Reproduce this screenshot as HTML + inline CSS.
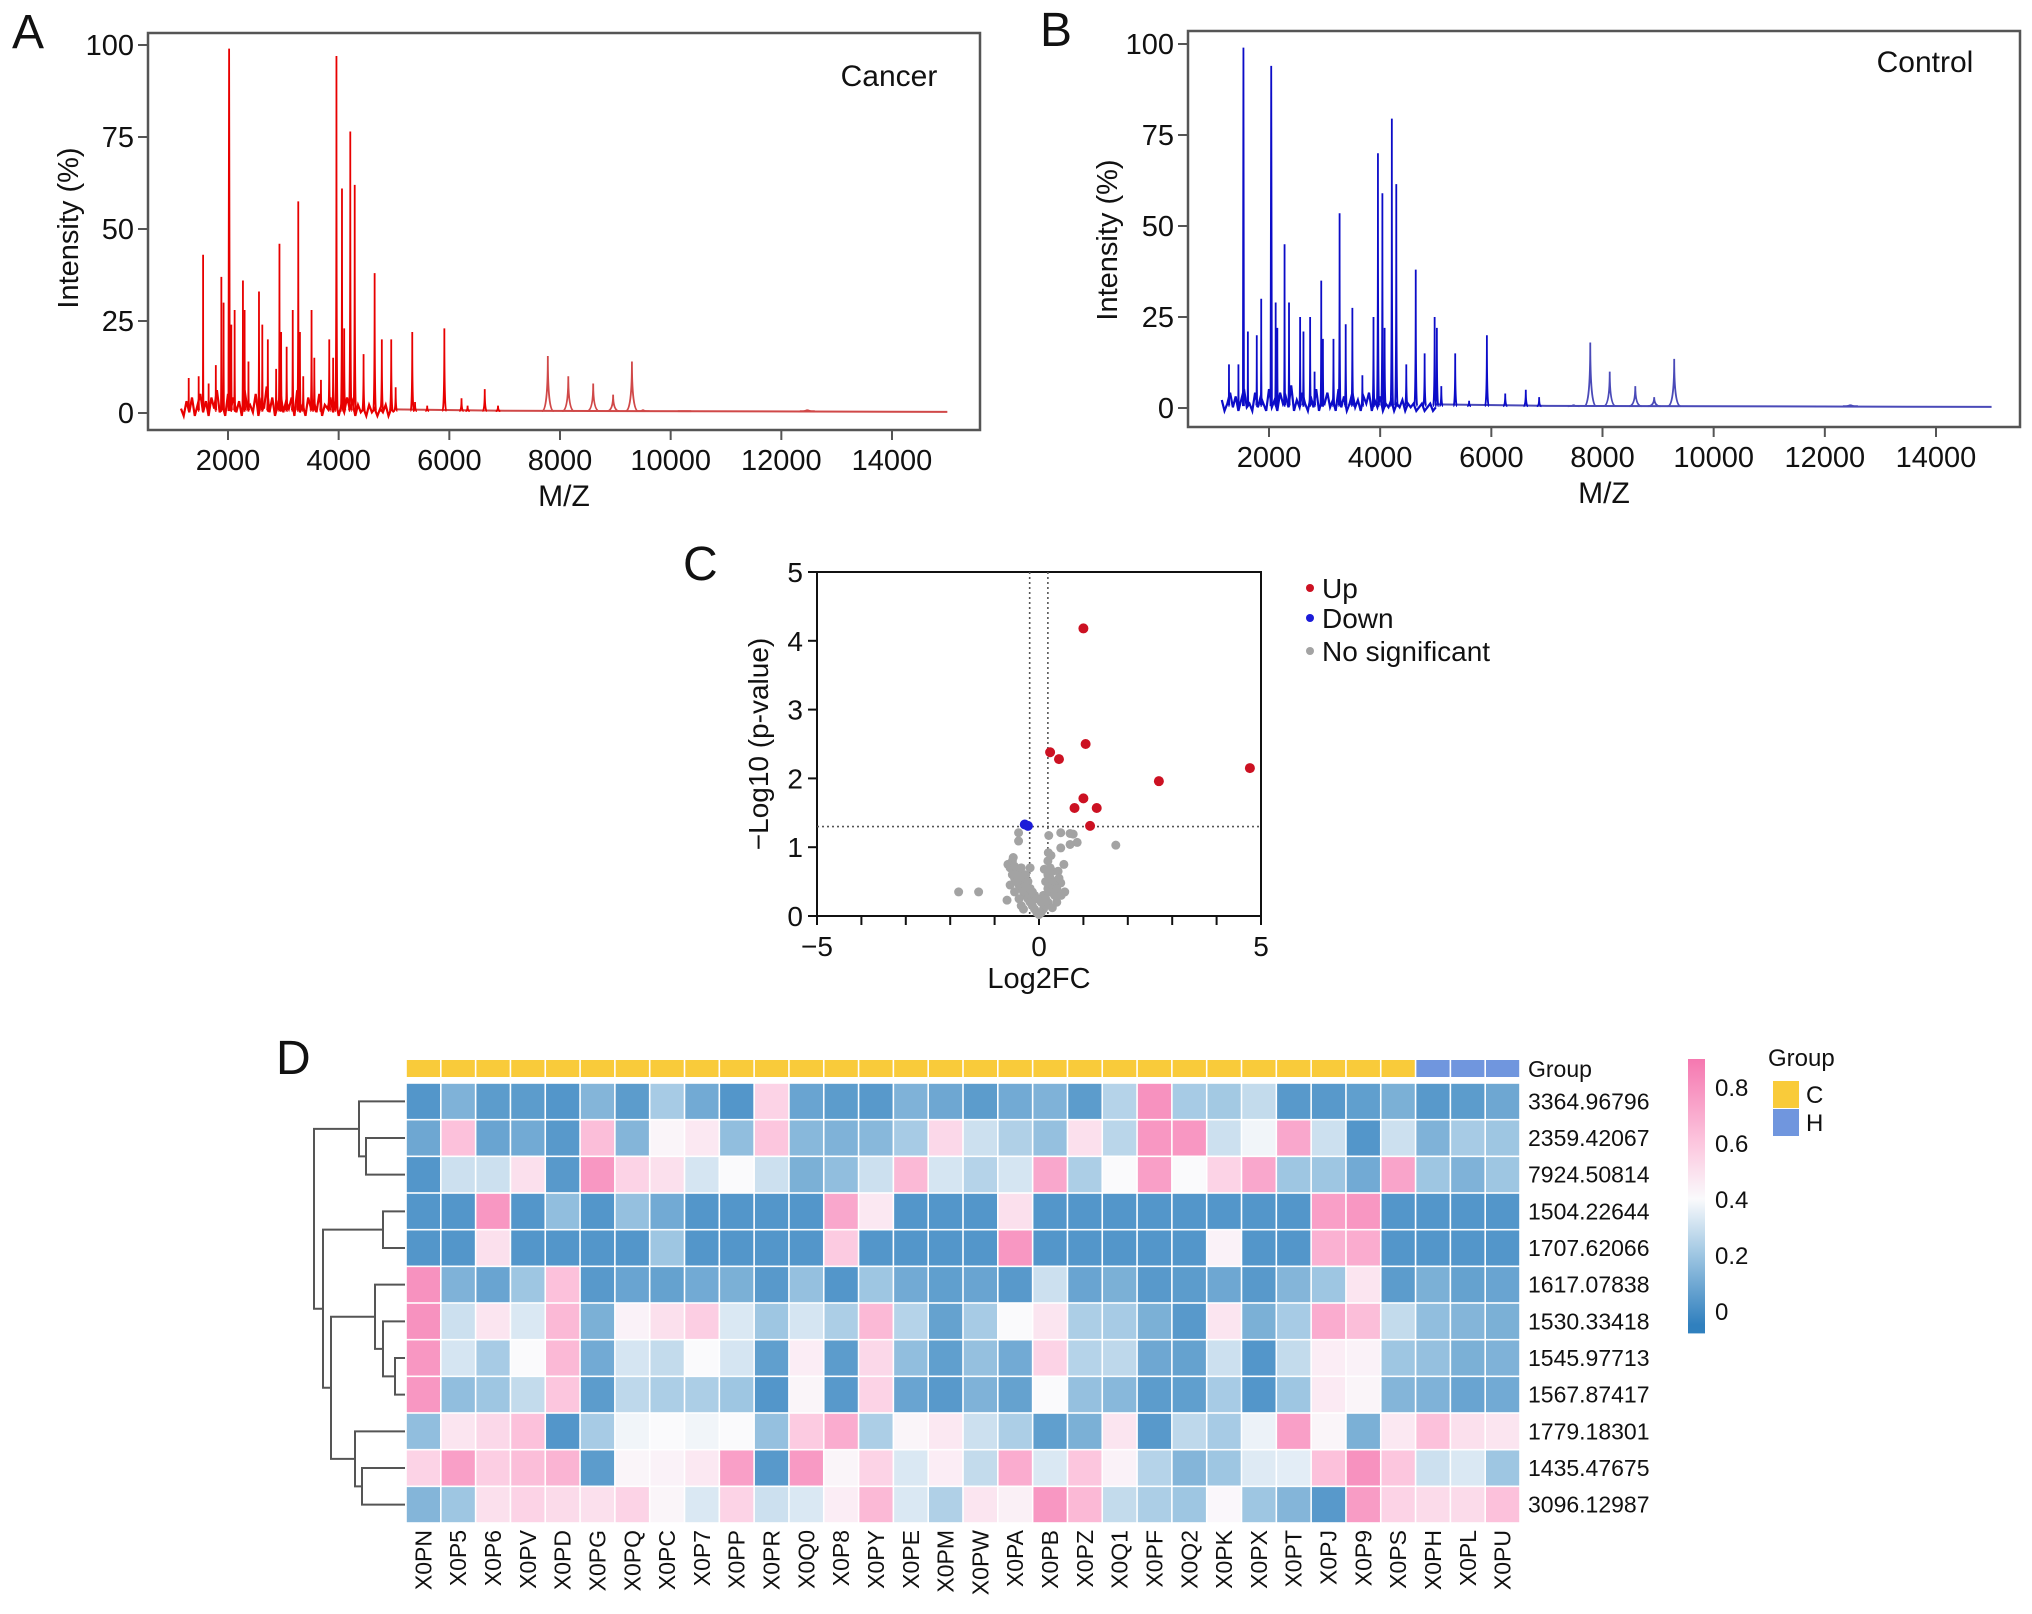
<!DOCTYPE html>
<html><head><meta charset="utf-8"><style>
html,body{margin:0;padding:0;background:#fff}
svg{display:block}
text{font-family:"Liberation Sans",sans-serif;fill:#111}
.n{font-family:"Liberation Sans Narrow","Liberation Sans",sans-serif}
</style></head><body>
<svg id="fig" width="2032" height="1614" viewBox="0 0 2032 1614" xmlns="http://www.w3.org/2000/svg">
<g id="pa"></g>
<g id="pb"></g>
<g id="pc"></g>
<g id="pd"></g>
</svg>
<script>
// ---------- Spectra data ----------
const peaksA_mz = [1290,1470,1550,1650,1780,1880,1920,2020,2060,2120,2270,2300,2370,2560,2620,2720,2870,2930,2960,3060,3170,3270,3300,3360,3510,3560,3680,3830,3900,3960,4060,4100,4210,4290,4450,4650,4780,4950,5030,5330,5380,5600,5910,6220,6330,6640,6880,7780,8150,8600,8960,9300,9500,10250,12470];
const peaksA_int = [9.5,10,43,8,13,37,30,99,24,28,36,28,14,33,24,20,12,46,22,18,28,57.5,22,10,28,15,9,20,15,97,61,23,76.5,62,16,38,20,20,7,22,3,2,23,4,2,6.5,2,15.5,10,8,5,14,1,0.5,1];
const noiseA = [2,0,4,1,5,0,3,6,1,4,0,5,2,7,1,3,0,6,2,5,1,4,0,7,2,3,1,6,0,4,2,8,1,5,0,3,6,1,4,2,5,0,7,1,3,0,5,2,4,1,6,0,3,2,5,1,4,0,3,1,5,2,4,0,3,1,2,0,3,1,2,0,2,1,3,0,2,1];
const peaksB_mz = [1280,1450,1540,1620,1780,1860,2040,2120,2150,2280,2360,2560,2620,2740,2820,2940,2970,3160,3270,3380,3500,3680,3880,3960,4040,4080,4210,4290,4470,4640,4800,4980,5020,5100,5350,5600,5920,6250,6620,6860,7480,7780,8130,8590,8930,9290,12460];
const peaksB_int = [12,12,99,21,20,30,94,29,22,45,29,25,21,25,10,35,19,19,53.5,23,27.5,9,25,70,59,22,79.5,61.5,12,38,15,25,22,6,15,2,20,4,5,3,1,18,10,6,3,13.5,1];
const noiseB = [3,0,2,5,1,4,0,3,6,1,2,0,5,1,4,2,0,6,1,3,0,5,2,4,1,7,0,3,1,5,2,0,4,1,6,0,3,2,5,1,3,0,6,1,4,0,2,5,1,3,0,4,2,5,0,3,1,4,0,2,1,3,0,2,1,3,0,2,1,2,0,1,2,0,1,2,0,1];
const specTicksX = [2000,4000,6000,8000,10000,12000,14000];
const specTicksY = [0,25,50,75,100];

// ---------- Volcano data ----------
const upX = [1.0,1.05,0.25,0.45,2.7,4.75,1.0,0.8,1.3,1.15];
const upY = [4.18,2.5,2.38,2.28,1.96,2.15,1.71,1.57,1.57,1.31];
const downX = [-0.32,-0.25];
const downY = [1.33,1.31];
const nsX = [-0.46,-0.46,0.22,0.49,0.70,0.77,0.86,0.70,0.49,0.21,0.27,1.73,-1.81,-1.36,-0.72,0.58,0.56,0.43,0.49,-0.7,-0.65,-0.6,-0.55,-0.5,-0.6,-0.55,-0.5,-0.45,-0.4,-0.35,-0.45,-0.4,-0.35,-0.3,-0.3,-0.25,-0.2,-0.3,-0.25,-0.2,-0.15,-0.1,-0.05,0,0.05,-0.1,-0.15,0.1,0.15,0.1,0.15,0.2,0.2,0.25,0.15,0.25,0.3,0.2,0.3,0.35,0.4,0.45,0.35,0.5,0.05,-0.05,-0.65,-0.55,-0.45,-0.4,-0.35,0.4,0.3,-0.2,0.2,0.25,-0.58,0.12];
const nsY = [1.21,1.09,1.17,1.21,1.2,1.19,1.07,1.04,0.99,0.92,0.88,1.03,0.35,0.35,0.23,0.35,0.75,0.65,0.48,0.75,0.7,0.8,0.72,0.65,0.6,0.55,0.5,0.6,0.7,0.55,0.45,0.4,0.35,0.45,0.3,0.25,0.2,0.6,0.5,0.4,0.15,0.1,0.05,0.02,0.05,0.3,0.35,0.1,0.15,0.3,0.25,0.2,0.4,0.35,0.5,0.55,0.45,0.6,0.65,0.5,0.4,0.55,0.3,0.3,0.2,0.25,0.45,0.35,0.25,0.15,0.1,0.2,0.12,0.7,0.8,0.7,0.85,0.68];
const volTicksX = [-5,0,5];
const volTicksY = [0,1,2,3,4,5];

// ---------- Heatmap data ----------
const hmCols = ["X0PN","X0P5","X0P6","X0PV","X0PD","X0PG","X0PQ","X0PC","X0P7","X0PP","X0PR","X0Q0","X0P8","X0PY","X0PE","X0PM","X0PW","X0PA","X0PB","X0PZ","X0Q1","X0PF","X0Q2","X0PK","X0PX","X0PT","X0PJ","X0P9","X0PS","X0PH","X0PL","X0PU"];
const hmGroups = ["C","C","C","C","C","C","C","C","C","C","C","C","C","C","C","C","C","C","C","C","C","C","C","C","C","C","C","C","C","H","H","H"];
const hmRows = ["3364.96796","2359.42067","7924.50814","1504.22644","1707.62066","1617.07838","1530.33418","1545.97713","1567.87417","1779.18301","1435.47675","3096.12987"];
const hmVals = [
[.03,.13,.05,.05,.03,.14,.05,.22,.1,.03,.55,.08,.05,.04,.13,.09,.05,.1,.13,.05,.25,.8,.22,.21,.28,.04,.04,.06,.12,.04,.05,.09],
[.09,.62,.08,.1,.04,.63,.14,.42,.47,.17,.6,.15,.13,.15,.22,.53,.3,.24,.18,.5,.26,.78,.78,.3,.38,.72,.3,.03,.3,.13,.22,.2],
[.03,.3,.3,.5,.04,.78,.55,.5,.32,.4,.3,.12,.17,.3,.65,.32,.25,.32,.72,.23,.4,.75,.4,.55,.72,.2,.2,.1,.73,.2,.13,.2],
[.03,.03,.78,.03,.17,.03,.18,.1,.03,.03,.03,.03,.72,.47,.03,.03,.03,.5,.03,.03,.03,.03,.03,.03,.03,.03,.75,.78,.03,.03,.03,.03],
[.03,.03,.5,.03,.03,.03,.03,.2,.03,.03,.03,.03,.58,.03,.03,.03,.03,.78,.03,.03,.03,.03,.03,.43,.03,.03,.68,.7,.03,.03,.03,.03],
[.8,.13,.08,.2,.62,.04,.08,.07,.1,.12,.04,.18,.03,.2,.1,.06,.08,.04,.3,.08,.12,.04,.05,.09,.04,.14,.2,.48,.05,.12,.07,.08],
[.8,.3,.48,.33,.65,.12,.43,.5,.57,.33,.2,.32,.23,.65,.25,.07,.22,.4,.48,.23,.22,.12,.04,.48,.12,.22,.7,.63,.28,.17,.14,.12],
[.78,.32,.22,.4,.65,.1,.32,.28,.4,.32,.06,.45,.05,.53,.17,.06,.18,.1,.55,.25,.27,.09,.07,.3,.03,.28,.45,.43,.2,.18,.12,.13],
[.78,.17,.2,.28,.6,.05,.27,.23,.23,.2,.03,.42,.04,.55,.08,.04,.13,.07,.4,.18,.15,.05,.06,.22,.03,.2,.46,.42,.14,.13,.08,.1],
[.17,.48,.53,.62,.03,.22,.38,.4,.38,.4,.18,.58,.7,.23,.42,.47,.3,.23,.06,.12,.48,.04,.27,.22,.37,.75,.42,.12,.47,.62,.5,.48],
[.55,.75,.57,.63,.67,.05,.42,.43,.47,.75,.04,.77,.42,.55,.33,.45,.28,.7,.33,.6,.43,.25,.14,.2,.34,.35,.62,.8,.6,.3,.33,.2],
[.14,.2,.5,.55,.52,.5,.55,.42,.33,.55,.3,.33,.45,.65,.33,.24,.48,.44,.78,.65,.28,.23,.2,.41,.2,.14,.04,.76,.55,.52,.52,.62]
];
const cbTicks = [0,0.2,0.4,0.6,0.8];

const NS = "http://www.w3.org/2000/svg";
function mk(parent, tag, attrs, txt){
  const e = document.createElementNS(NS, tag);
  for (const k in attrs) e.setAttribute(k, attrs[k]);
  if (txt !== undefined) e.textContent = txt;
  parent.appendChild(e);
  return e;
}

// ---------- Spectrum panel ----------
function spectrum(g, cfg, mzs, ints, noise, color, fade){
  const X = v => cfg.x0 + (v-2000)*(cfg.x1-cfg.x0)/12000;
  const Y = v => cfg.y0 + (v)*(cfg.y100-cfg.y0)/100;
  const box = mk(g,'rect',{x:cfg.bx0,y:cfg.by0,width:cfg.bx1-cfg.bx0,height:cfg.by1-cfg.by0,fill:'none',stroke:'#555','stroke-width':2.5});
   
  specTicksY.forEach(t=>{
    const l = mk(g,'line',{x1:cfg.bx0-10,x2:cfg.bx0,y1:Y(t),y2:Y(t),stroke:'#555','stroke-width':2});
     
    const tx = mk(g,'text',{x:cfg.bx0-14,y:Y(t)+10,'text-anchor':'end','font-size':29,class:'n'},String(t));
     
  });
  specTicksX.forEach(t=>{
    const l = mk(g,'line',{x1:X(t),x2:X(t),y1:cfg.by1,y2:cfg.by1+10,stroke:'#555','stroke-width':2});
     
    const tx = mk(g,'text',{x:X(t),y:cfg.by1+40,'text-anchor':'middle','font-size':29,class:'n'},String(t));
     
  });
  let d = '';
  noise.forEach((v,i)=>{ const mz = 1150 + i*50; d += (i?'L':'M') + X(mz).toFixed(1)+','+Y(v-0.8).toFixed(1)+' '; });
  const nz = mk(g,'path',{d:d,fill:'none',stroke:color,'stroke-width':2.2});
   
  const bl = mk(g,'path',{d:'M'+X(5000)+','+Y(1)+' L'+X(7000)+','+Y(0.6)+' L'+X(15000)+','+Y(0.3),fill:'none',stroke:fade,'stroke-width':2});
   
  mzs.forEach((mz,i)=>{
    const w = mz*0.006 + (mz>7000?60:0);
    const b = Y(0.5), top = Y(ints[i]);
    const d2 = 'M'+X(mz-w)+','+b+' Q'+X(mz)+','+b+' '+X(mz)+','+top+' Q'+X(mz)+','+b+' '+X(mz+w)+','+b;
    const p = mk(g,'path',{d:d2,fill:'none',stroke:mz>6900?fade:color,'stroke-width':1.8});
     
  });
  const yl = mk(g,'text',{x:0,y:0,transform:'translate('+cfg.ylx+','+cfg.yly+') rotate(-90)','text-anchor':'middle','font-size':29},'Intensity (%)');
   
  const xl = mk(g,'text',{x:(cfg.bx0+cfg.bx1)/2,y:cfg.by1+76,'text-anchor':'middle','font-size':30,class:'n'},'M/Z');
   
  const lab = mk(g,'text',{x:cfg.tx,y:cfg.ty,'text-anchor':'middle','font-size':30,class:'n'},cfg.title);
   
  const pl = mk(g,'text',{x:cfg.lx,y:cfg.ly,'font-size':48,class:'n'},cfg.letter);
   
}
spectrum(document.getElementById('pa'),{x0:228,x1:892,y0:413,y100:45,bx0:148,bx1:980,by0:33,by1:430,ylx:78,yly:228,tx:889,ty:86,title:'Cancer',lx:12,ly:48,letter:'A'},peaksA_mz,peaksA_int,noiseA,'#e80000','#d04848');
spectrum(document.getElementById('pb'),{x0:1269,x1:1936,y0:408,y100:44,bx0:1188,bx1:2020,by0:31,by1:427,ylx:1117,yly:240,tx:1925,ty:72,title:'Control',lx:1040,ly:46,letter:'B'},peaksB_mz,peaksB_int,noiseB,'#0c0cc8','#4a4ab8');

// ---------- Volcano ----------
(function(){
  const g = document.getElementById('pc');
  const X0=817,X1=1261,Y0=916,Y5=572;
  const X = v => X0 + (v+5)*(X1-X0)/10;
  const Y = v => Y0 - v*(Y0-Y5)/5;
  const f = mk(g,'rect',{x:X0,y:Y5,width:X1-X0,height:Y0-Y5,fill:'none',stroke:'#111','stroke-width':2});
   
  for(let t=-5;t<=5;t++){
    const l = mk(g,'line',{x1:X(t),x2:X(t),y1:Y0,y2:Y0+9,stroke:'#111','stroke-width':2});
     
  }
  volTicksX.forEach(t=>{
    const tx = mk(g,'text',{x:X(t),y:Y0+40,'text-anchor':'middle','font-size':28,class:'n'},t<0?'\u2212'+Math.abs(t):String(t));
     
  });
  volTicksY.forEach(t=>{
    const l = mk(g,'line',{x1:X0-9,x2:X0,y1:Y(t),y2:Y(t),stroke:'#111','stroke-width':2});
     
    const tx = mk(g,'text',{x:X0-14,y:Y(t)+10,'text-anchor':'end','font-size':28,class:'n'},String(t));
     
  });
  [[-0.21,'v'],[0.2,'v'],[1.3,'h']].forEach(a=>{
    const l = a[1]==='v' ? mk(g,'line',{x1:X(a[0]),x2:X(a[0]),y1:Y5,y2:Y0,stroke:'#555','stroke-width':1.6,'stroke-dasharray':'2 3'})
                         : mk(g,'line',{x1:X0,x2:X1,y1:Y(a[0]),y2:Y(a[0]),stroke:'#555','stroke-width':1.6,'stroke-dasharray':'2 3'});
     
  });
  nsX.forEach((x,i)=>{ const c=mk(g,'circle',{cx:X(x),cy:Y(nsY[i]),r:4.5,fill:'#a3a3a3'});
      });
  downX.forEach((x,i)=>{ const c=mk(g,'circle',{cx:X(x),cy:Y(downY[i]),r:5,fill:'#1b1bd8'});
      });
  upX.forEach((x,i)=>{ const c=mk(g,'circle',{cx:X(x),cy:Y(upY[i]),r:5,fill:'#cc1122'});
      });
  const yl = mk(g,'text',{x:0,y:0,transform:'translate(768,744) rotate(-90)','text-anchor':'middle','font-size':28},'\u2212Log10 (p-value)');
   
  const xl = mk(g,'text',{x:X(0),y:988,'text-anchor':'middle','font-size':29,class:'n'},'Log2FC');
   
  const leg = [['Up','#cc1122',588],['Down','#1b1bd8',618],['No significant','#a3a3a3',651]];
  leg.forEach(e=>{
    const c = mk(g,'circle',{cx:1310,cy:e[2],r:4,fill:e[1]});
     
    const t = mk(g,'text',{x:1322,y:e[2]+10,'font-size':28,class:'n'},e[0]);
     
  });
  const pl = mk(g,'text',{x:683,y:580,'font-size':48,class:'n'},'C');
   
})();

// ---------- Heatmap ----------
(function(){
  const g = document.getElementById('pd');
  const L=406, R=1520, T=1083, B=1523;
  const cw=(R-L)/hmCols.length, rh=(B-T)/hmRows.length;
  const stops=[[-0.05,[48,128,190]],[0.2,[158,198,226]],[0.4,[250,250,252]],[0.6,[252,198,222]],[0.9,[245,120,176]]];
  function col(v){
    for(let i=0;i<stops.length-1;i++){
      const a=stops[i],b=stops[i+1];
      if(v<=b[0]){ const t=Math.max(0,(v-a[0])/(b[0]-a[0])); return 'rgb('+a[1].map((c,k)=>Math.round(c+(b[1][k]-c)*t)).join(',')+')'; }
    }
    return 'rgb(245,120,176)';
  }
  hmGroups.forEach((gr,j)=>{
    const r = mk(g,'rect',{x:L+j*cw+0.8,y:1060,width:cw-1.6,height:17,fill:gr==='C'?'#f9cb3a':'#7096de'});
     
  });
  hmVals.forEach((row,i)=>row.forEach((v,j)=>{
    const r = mk(g,'rect',{x:L+j*cw+0.8,y:T+i*rh+0.8,width:cw-1.6,height:rh-1.6,fill:col(v)});
     
  }));
  const gl = mk(g,'text',{x:1528,y:1077,'font-size':23},'Group');
   
  hmRows.forEach((n,i)=>{
    const t = mk(g,'text',{x:1528,y:T+(i+0.5)*rh+8,'font-size':23},n);
     
  });
  hmCols.forEach((n,j)=>{
    const cx=L+(j+0.5)*cw;
    const t = mk(g,'text',{x:0,y:0,transform:'translate('+(cx+8)+',1530) rotate(-90)','text-anchor':'end','font-size':23},n);
     
  });
  const rc = i => T+(i+0.5)*rh;
  const Dx = 405;
  function link(x, y1, y2, xa, xb){
    const p = mk(g,'path',{d:'M'+xa+','+y1+' H'+x+' V'+y2+' H'+xb,fill:'none',stroke:'#555','stroke-width':2});
     
  }
  link(366, rc(1), rc(2), Dx, Dx);
  link(359, rc(0), (rc(1)+rc(2))/2, Dx, 366);
  link(383, rc(3), rc(4), Dx, Dx);
  link(395, rc(7), rc(8), Dx, Dx);
  link(383, rc(6), (rc(7)+rc(8))/2, Dx, 395);
  const y678=(rc(6)+(rc(7)+rc(8))/2)/2;
  link(375, rc(5), y678, Dx, 383);
  link(362, rc(10), rc(11), Dx, Dx);
  const y1011=(rc(10)+rc(11))/2;
  link(355, rc(9), y1011, Dx, 362);
  const y58=(rc(5)+y678)/2, y911=(rc(9)+y1011)/2;
  link(331, y58, y911, 375, 355);
  const y34=(rc(3)+rc(4))/2, y511=(y58+y911)/2;
  link(323, y34, y511, 383, 331);
  const y02=(rc(0)+(rc(1)+rc(2))/2)/2, y311=(y34+y511)/2;
  link(314, y02, y311, 359, 323);
  const defs = mk(g,'defs',{});
  const lg = mk(defs,'linearGradient',{id:'cbg',x1:0,y1:1,x2:0,y2:0});
  const cbMin=-0.08, cbMax=0.9;
  stops.forEach(s=>{ const o=(s[0]-cbMin)/(cbMax-cbMin); mk(lg,'stop',{offset:Math.max(0,Math.min(1,o)),'stop-color':'rgb('+s[1].join(',')+')'}); });
  const CY = v => 1311 - v*280;
  const cb = mk(g,'rect',{x:1688,y:CY(cbMax),width:17,height:CY(cbMin)-CY(cbMax),fill:'url(#cbg)'});
   
  cbTicks.forEach(t=>{
    const tx = mk(g,'text',{x:1715,y:CY(t)+9,'font-size':24},String(t));
     
  });
  const lgT = mk(g,'text',{x:1768,y:1066,'font-size':24},'Group');
   
  [['C','#f9cb3a',1081],['H','#7096de',1109]].forEach(e=>{
    const r = mk(g,'rect',{x:1773,y:e[2],width:26,height:27,fill:e[1]});
     
    const t = mk(g,'text',{x:1806,y:e[2]+22,'font-size':24},e[0]);
     
  });
  const pl = mk(g,'text',{x:276,y:1074,'font-size':48,class:'n'},'D');
   
})();
</script>
</body></html>
